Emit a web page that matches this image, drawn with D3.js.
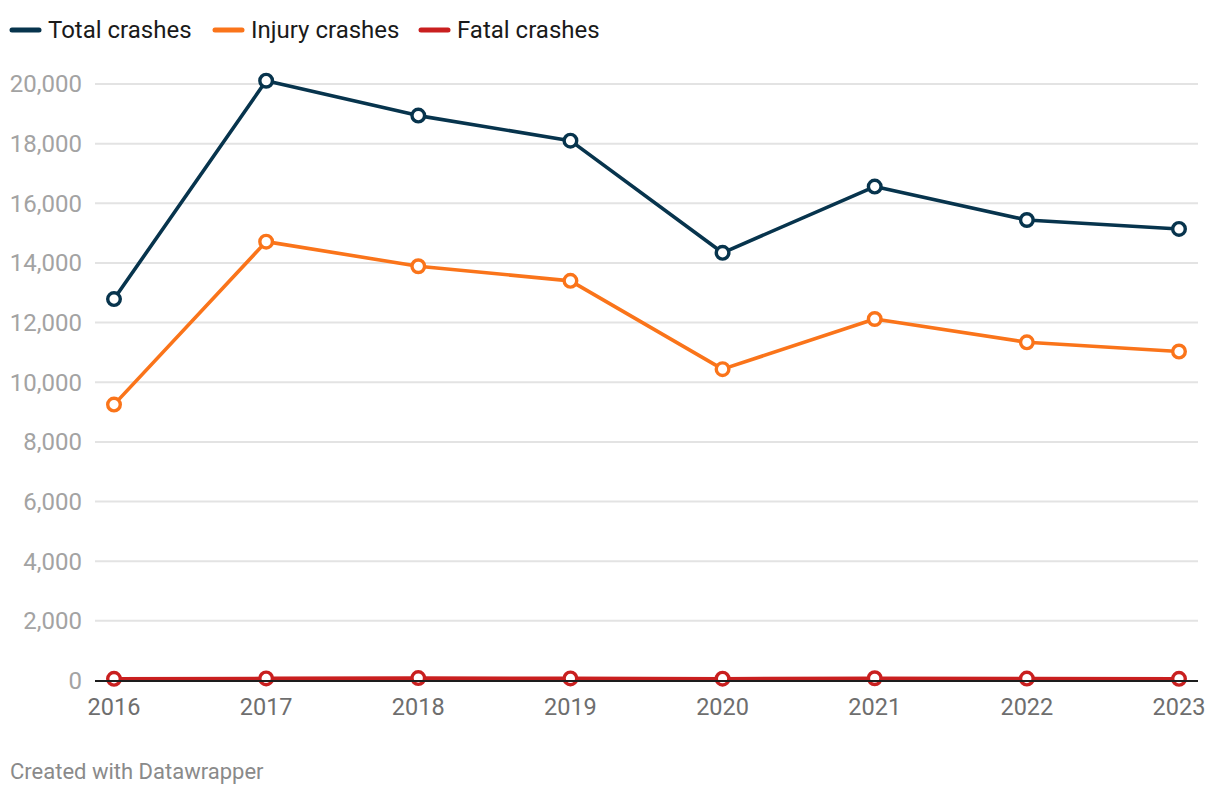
<!DOCTYPE html>
<html>
<head>
<meta charset="utf-8">
<script src="https://cdn.jsdelivr.net/npm/d3@7"></script>
<style>
  html, body { margin: 0; padding: 0; background: #fff; }
  svg { display: block; font-family: Roboto, "Noto Sans", sans-serif; }
</style>
</head>
<body>
<svg id="chart" width="1220" height="798"></svg>
<script>
const years = [2016, 2017, 2018, 2019, 2020, 2021, 2022, 2023];
const totalCrashes  = [12790, 20110, 18940, 18100, 14340, 16560, 15440, 15140];
const injuryCrashes = [9250, 14715, 13890, 13400, 10440, 12120, 11340, 11030];
const fatalCrashes  = [55, 70, 80, 70, 60, 75, 65, 55];
const yTicks = [0, 2000, 4000, 6000, 8000, 10000, 12000, 14000, 16000, 18000, 20000];
const seriesNames = ["Total crashes", "Injury crashes", "Fatal crashes"];
const seriesColors = ["#07344d", "#fa741a", "#c91f1f"];

const series = [totalCrashes, injuryCrashes, fatalCrashes].map((vals, i) => ({
  name: seriesNames[i], color: seriesColors[i],
  points: vals.map((v, j) => ({ year: years[j], value: v }))
}));

const svg = d3.select("#chart");
const x = d3.scaleLinear().domain([2016, 2023]).range([114, 1179]);
const y = d3.scaleLinear().domain([0, 20000]).range([680.5, 84]);
const gridLeft = 95, gridRight = 1198;

// gridlines
svg.append("g").selectAll("line").data(yTicks.filter(d => d > 0)).join("line")
  .attr("x1", gridLeft).attr("x2", gridRight)
  .attr("y1", d => y(d)).attr("y2", d => y(d))
  .attr("stroke", "#e3e3e3").attr("stroke-width", 2);

// y labels
const fmt = d3.format(",");
svg.append("g").selectAll("text").data(yTicks).join("text")
  .attr("x", 82).attr("y", d => y(d)).attr("dy", "0.35em")
  .attr("text-anchor", "end").attr("fill", "#a3a3a3")
  .attr("font-size", 24).text(d => fmt(d));

// x labels
svg.append("g").selectAll("text").data(years).join("text")
  .attr("x", d => x(d)).attr("y", 715)
  .attr("text-anchor", "middle").attr("fill", "#6e6e6e")
  .attr("font-size", 23.5).text(d => d);

// lines
const line = d3.line().x(d => x(d.year)).y(d => y(d.value));
const gS = svg.append("g");
series.forEach(s => {
  gS.append("path").datum(s.points)
    .attr("d", line).attr("fill", "none")
    .attr("stroke", s.color).attr("stroke-width", 3.6)
    .attr("stroke-linejoin", "round");
});
series.forEach(s => {
  gS.append("g").selectAll("circle").data(s.points).join("circle")
    .attr("cx", d => x(d.year)).attr("cy", d => y(d.value)).attr("r", 6.3)
    .attr("fill", "#fff").attr("stroke", s.color).attr("stroke-width", 3.4);
});

// baseline
svg.append("line").attr("x1", gridLeft).attr("x2", gridRight)
  .attr("y1", 681).attr("y2", 681).attr("stroke", "#1d1d1d").attr("stroke-width", 2);

// legend
const legendX = [10, 213, 419];
const lg = svg.append("g").selectAll("g").data(series).join("g")
  .attr("transform", (d, i) => `translate(${legendX[i]},30)`);
lg.append("line").attr("x1", 2).attr("x2", 29).attr("y1", 0).attr("y2", 0)
  .attr("stroke", d => d.color).attr("stroke-width", 5).attr("stroke-linecap", "round");
lg.append("text").attr("x", 38).attr("y", 0).attr("dy", "0.35em")
  .attr("font-size", 24).attr("fill", "#1a1a1a").text(d => d.name);

// footer
svg.append("text").attr("x", 10).attr("y", 779)
  .attr("font-size", 22).attr("fill", "#8a8a8a").text("Created with Datawrapper");
</script>
</body>
</html>
